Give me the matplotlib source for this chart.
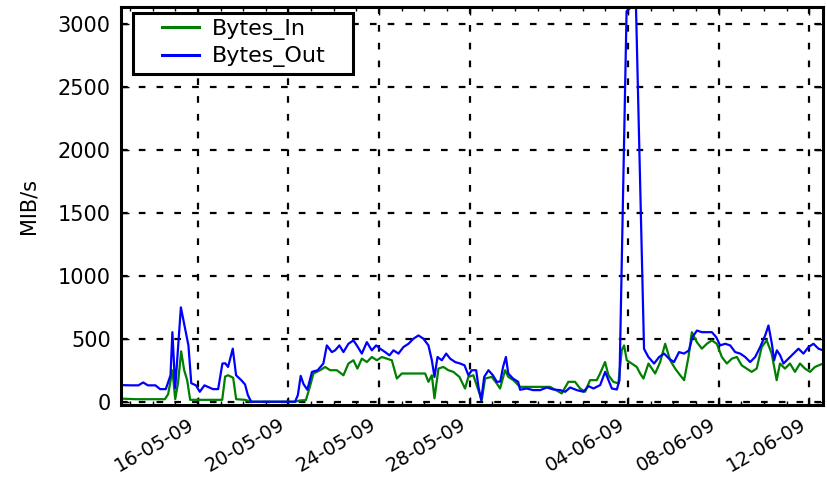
import numpy as np
import pandas as pd
import matplotlib
matplotlib.use("Agg")
import matplotlib.pyplot as plt
import matplotlib.dates as mdates
from matplotlib.legend_handler import HandlerLine2D

# time reference: hours since 2009-05-16 00:00
start = pd.Timestamp("2009-05-16 00:00")

out_hours = [-82, -71, -63, -58, -53, -45, -40, -34, -29, -27, -24, -18, -13.5, -10, -7, -2, 2, 7,
             16, 21.5, 26, 29, 32, 37, 40.5, 46, 50, 53, 56.5, 103, 106, 109, 112, 116, 121, 127,
             133, 136.7, 142, 145.5, 150, 154.3, 159.6, 164.9, 168.5, 173.8, 179.1, 184.4, 189,
             193.2, 198.5, 203.1, 207.3, 212.6, 217.9, 223.2, 228.5, 233.8, 239.1, 244.4, 248,
             250.8, 254, 258.6, 263.2, 267.4, 272.7, 278, 282.6, 286.8, 290.4, 295, 297.4, 300.3,
             303.5, 308, 312.7, 316.9, 320.5, 323.5, 326.5, 329, 334, 339.5, 341.5, 348.4, 355.5,
             362.8, 369.9, 376.9, 384, 389.3, 394.6, 401.7, 408.7, 414, 419.3, 426.4, 431.7, 435.2,
             438.8, 444.1, 446.9, 454.4, 459.1, 464.4, 472.9, 477.5, 483.6, 488.9, 494.2, 499.4,
             504.7, 510, 515.3, 520.6, 524.2, 529, 534.2, 539.5, 544.8, 549.4, 553.6, 558.9, 564.2,
             569.5, 574.8, 580.1, 585.4, 590.7, 596, 601.3, 604.8, 608.4, 610.8, 613.7, 617.2,
             620.7, 626, 631.3, 636.6, 641.9, 647.2, 652.5, 657.8, 662.6]
out_vals = [132, 130, 130, 153, 130, 130, 100, 100, 210, 552, 108, 749, 580, 447, 147, 130, 79, 130,
            100, 100, 303, 305, 276, 421, 210, 171, 137, 53, 0, 0, 53, 205, 140, 95, 237, 250,
            303, 447, 394, 408, 447, 394, 460, 487, 447, 382, 473, 408, 447,
            421, 394, 368, 408, 382, 434, 460, 500, 526, 500, 447, 329,
            197, 355, 329, 382, 342, 315, 303, 289, 210, 250, 250, 118, 13,
            197, 250, 210, 158, 160, 276, 355, 224, 184, 158, 95, 105, 92,
            92, 113, 97, 92, 79, 113, 92, 79, 124, 105, 132, 237, 171,
            105, 97, 171, 3100, 3130, 3130, 420, 355, 303, 355, 382, 342,
            315, 394, 382, 408, 513, 565, 552, 552, 552, 513, 447, 460, 447,
            394, 382, 355, 315, 355, 434, 526, 605, 460, 329, 408, 368,
            303, 342, 382, 421, 382, 434, 460, 421, 408]

in_hours = [-82, -66, -51, -35, -31.5, -27, -24, -21, -17.7, -14.5, -11.3, -8.2, 2.4, 18.3, 25.8,
            28.9, 32.1, 37.4, 40.6, 50.1, 56.5, 103, 108.2, 114.5, 118.7, 122.5, 129.6, 134.9,
            140.2, 147.3, 154.3, 159.6, 164.9, 169.1, 173.8, 179.1, 184.4, 189.7, 195, 200.3,
            205.6, 210.9, 216.2, 225, 235.6, 240.9, 244.4, 248, 250.8, 255, 260.2, 265.5, 270.8,
            277.2, 283.2, 286.7, 292, 297.3, 300.9, 304.4, 311.5, 316.8, 320.3, 325.6, 329.1,
            334.4, 341.5, 352.1, 362.8, 373.3, 385.7, 392.7, 399.8, 405.1, 410.4, 415.7, 422.8,
            426.3, 431.6, 435.2, 440.4, 445.7, 449.3, 451.8, 454.6, 459.9, 465.2, 468.8, 472.3,
            477.6, 484.7, 490, 495.3, 500.6, 505.9, 511.2, 515.4, 520, 523.6, 528.9, 534.2,
            539.5, 544.8, 550, 555.4, 560.7, 566, 571.3, 576.4, 581.7, 587, 592.3, 597.6, 602.9,
            608.2, 613.5, 617, 622.3, 627.6, 632.9, 638.2, 643.5, 648.8, 654.1, 662.6]
in_vals = [25, 20, 20, 20, 60, 250, 20, 150, 400, 250, 170, 15, 15, 15, 15,
           200, 210, 190, 20, 15, 0, 0, 10, 13, 118, 224, 250, 276,
           250, 250, 210, 303, 329, 263, 342, 315, 355, 329, 355, 342,
           329, 184, 224, 224, 224, 224, 158, 210, 27, 263, 276, 250, 237,
           197, 105, 197, 210, 92, 13, 184, 197, 145, 105, 250, 197,
           171, 118, 118, 118, 118, 66, 158, 158, 105, 79, 171, 171,
           224, 315, 210, 158, 145, 408, 447, 329, 303, 276, 224, 184,
           303, 224, 315, 460, 329, 263, 210, 171, 355, 552, 473, 421,
           460, 487, 460, 355, 303, 342, 355, 289, 263, 237, 263, 434, 487,
           382, 171, 303, 263, 303, 237, 303, 263, 237, 276, 303]

y_ticks = [0, 500, 1000, 1500, 2000, 2500, 3000]
label_days = [4, 8, 12, 16, 20, 24, 28]

t_out = start + pd.to_timedelta(out_hours, unit="h")
t_in = start + pd.to_timedelta(in_hours, unit="h")

fig = plt.figure(figsize=(8.27, 4.87), dpi=100)
ax = fig.add_axes([0.14571, 0.16838, 0.84945, 0.81725])

l_in, = ax.plot(t_in, in_vals, color="green", lw=1.6, label="Bytes_In")
l_out, = ax.plot(t_out, out_vals, color="blue", lw=1.6, label="Bytes_Out")

ax.set_xlim(min(t_out[0], t_in[0]), max(t_out[-1], t_in[-1]))
ax.set_ylim(-26, 3133)
ax.set_yticks(y_ticks)

ax.xaxis.set_major_locator(mdates.DayLocator(bymonthday=label_days))
ax.xaxis.set_minor_locator(mdates.DayLocator())
ax.xaxis.set_major_formatter(mdates.DateFormatter("%d-%m-%y"))

ax.grid(True, which="major", color="black", linestyle=(0, (3, 5)), linewidth=1.6)
ax.tick_params(which="both", direction="in", top=True, right=True, width=1, color="black")
ax.tick_params(which="major", length=6, pad=7)
ax.tick_params(which="minor", length=3)
ax.tick_params(axis="y", labelsize=15)
ax.tick_params(axis="x", labelsize=14)
for lab in ax.get_xticklabels():
    lab.set_rotation(30)
    lab.set_ha("right")

for sp in ax.spines.values():
    sp.set_linewidth(2.2)
    sp.set_color("black")

ax.set_ylabel("MIB/s", fontsize=15)
ax.yaxis.set_label_coords(-0.117, 0.5)

leg = ax.legend(handles=[l_in, l_out], loc="upper left",
                bbox_to_anchor=(0.0178, 0.0, 0.313, 0.9857), mode="expand",
                borderaxespad=0, borderpad=0.29, labelspacing=0.28,
                handlelength=2.68, handletextpad=0.57, fontsize=16,
                fancybox=False, framealpha=1, edgecolor="black",
                handler_map={l_in: HandlerLine2D(xpad=1.0), l_out: HandlerLine2D(xpad=1.0)})
leg.get_frame().set_linewidth(2.2)
for ln in leg.get_lines():
    ln.set_linewidth(2.2)

fig.savefig("out.png", dpi=100)
